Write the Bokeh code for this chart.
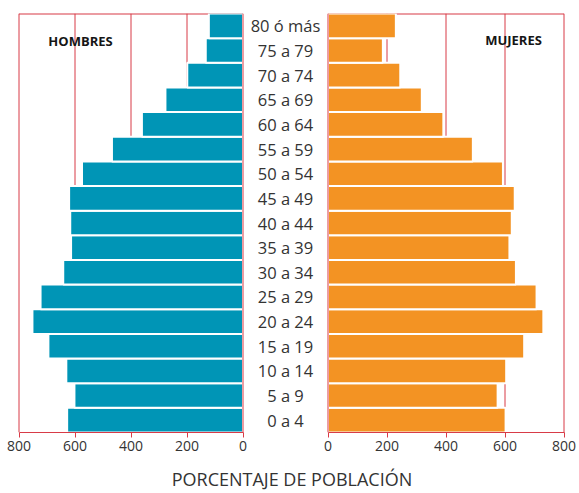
from bokeh.plotting import figure
from bokeh.models import (Range1d, FactorRange, LinearAxis, FixedTicker, Span,
                          ColumnDataSource)
from bokeh.core.properties import value
from bokeh.embed import file_html
from bokeh.resources import INLINE

# ---------------- data ----------------
ages = ["0 a 4", "5 a 9", "10 a 14", "15 a 19", "20 a 24", "25 a 29", "30 a 34",
        "35 a 39", "40 a 44", "45 a 49", "50 a 54", "55 a 59", "60 a 64",
        "65 a 69", "70 a 74", "75 a 79", "80 ó más"]
hombres = [628, 602, 631, 695, 752, 723, 642, 614, 617, 621, 575, 468, 361, 277, 199, 133, 122]
mujeres = [602, 575, 604, 665, 730, 707, 637, 615, 623, 633, 593, 491, 391, 318, 245, 186, 230]
ticks = [0, 200, 400, 600, 800]
tick_labels = ["0", "200", "400", "600", "800"]
panel_titles = ["HOMBRES", "MUJERES"]
x_title = "PORCENTAJE DE POBLACIÓN"

# ---------------- layout (pixels) ----------------
W, H = 579, 493
FRAME_L, FRAME_R = 15, 568          # plot frame (a bit wider than the panels)
FRAME_T, FRAME_B = 13, 434
MEN_MAX_PX, MEN_ZERO_PX = 18.5, 242.5
WOMEN_ZERO_PX, WOMEN_MAX_PX = 327.5, 563.5
XMAX = 800
TITLE_CX = 281
HOMBRES_PX = (80, 41)
MUJERES_PX = (513, 40)

BLUE = "#0095B6"
ORANGE = "#F39323"
RED = "#D83B47"
TEXT = "#333333"
FONT = "Open Sans"

men_scale = (MEN_ZERO_PX - MEN_MAX_PX) / XMAX
women_scale = (WOMEN_MAX_PX - WOMEN_ZERO_PX) / XMAX
men_range = Range1d(start=(MEN_ZERO_PX - FRAME_L) / men_scale,
                    end=-(FRAME_R - MEN_ZERO_PX) / men_scale)
women_range = Range1d(start=-(WOMEN_ZERO_PX - FRAME_L) / women_scale,
                      end=(FRAME_R - WOMEN_ZERO_PX) / women_scale)

def men_x(px):
    return (MEN_ZERO_PX - px) / men_scale

def women_x(px):
    return (px - WOMEN_ZERO_PX) / women_scale

def men_px(v):
    return MEN_ZERO_PX - v * men_scale

row_px = (FRAME_B - FRAME_T) / len(ages)

def cat_y(py):
    yu = len(ages) - (py - FRAME_T) / row_px
    i = min(int(yu), len(ages) - 1)
    return (ages[i], yu - (i + 0.5))

p = figure(width=W, height=H, x_range=women_range,
           y_range=FactorRange(factors=ages, range_padding=0),
           output_backend="svg", toolbar_location=None,
           x_axis_location=None, y_axis_location=None,
           min_border_left=FRAME_L, min_border_right=W - FRAME_R,
           min_border_top=FRAME_T, min_border_bottom=H - FRAME_B)
p.extra_x_ranges = {"men": men_range}
p.grid.visible = False
p.outline_line_color = None
p.background_fill_color = "white"
p.border_fill_color = "white"

# vertical grid / frame lines of both panels (behind bars)
for rng in ("men", "default"):
    for t in ticks[1:]:
        p.add_layout(Span(location=t, dimension="height", x_range_name=rng,
                          line_color=RED, line_width=1, level="underlay"))

# top frame line of each panel (behind the bars)
top_src = ColumnDataSource(dict(x0=[0], x1=[XMAX], y=[(ages[-1], 0.5)]))
for rng in ("men", "default"):
    p.segment(x0="x0", x1="x1", y0="y", y1="y", source=top_src, x_range_name=rng,
              line_color=RED, line_width=2)

# bottom frame line of each panel (axes with no ticks, zero size)
def line_axis(rng):
    return LinearAxis(x_range_name=rng, bounds=(0, XMAX), ticker=FixedTicker(ticks=[]),
                      axis_line_color=RED, axis_line_width=1,
                      major_tick_line_color=None, minor_tick_line_color=None,
                      major_tick_in=0, major_tick_out=0, minor_tick_in=0, minor_tick_out=0)

for rng in ("men", "default"):
    p.add_layout(line_axis(rng), "below")

src = ColumnDataSource(dict(edad=ages, hombres=hombres, mujeres=mujeres))

p.hbar(y="edad", left=0, right="hombres", height=1, source=src, x_range_name="men",
       fill_color=BLUE, line_color="white", line_width=2)
p.hbar(y="edad", left=0, right="mujeres", height=1, source=src,
       fill_color=ORANGE, line_color="white", line_width=2)

# zero lines on top of bars
for rng in ("men", "default"):
    p.add_layout(Span(location=0, dimension="height", x_range_name=rng,
                      line_color=RED, line_width=1))

# age labels in the middle
label_x = women_x((MEN_ZERO_PX + WOMEN_ZERO_PX) / 2)
p.text(x=label_x, y="edad", text="edad", source=src, text_align="center",
       text_baseline="middle", text_font=value(FONT), text_font_size="16.5px",
       text_color=TEXT)

# panel titles
p.text(x=[men_x(HOMBRES_PX[0])], y=[cat_y(HOMBRES_PX[1])], text=[panel_titles[0]],
       x_range_name="men", text_align="center", text_baseline="middle",
       text_font=value(FONT), text_font_size="13px", text_font_style="bold",
       text_color="#151515")
p.text(x=[women_x(MUJERES_PX[0])], y=[cat_y(MUJERES_PX[1])], text=[panel_titles[1]],
       text_align="center", text_baseline="middle",
       text_font=value(FONT), text_font_size="13px", text_font_style="bold",
       text_color="#151515")

# one tick axis carrying the ticks of both panels
women_ticks = list(ticks)
men_ticks_in_women_units = [women_x(men_px(t)) for t in ticks]
all_ticks = women_ticks + men_ticks_in_women_units
overrides = {}
for pos, lab in zip(women_ticks, tick_labels):
    overrides[float(pos)] = lab
for pos, lab in zip(men_ticks_in_women_units, tick_labels):
    overrides[float(pos)] = lab

tick_axis = LinearAxis(ticker=FixedTicker(ticks=[float(t) for t in all_ticks]),
                       axis_line_color=None,
                       major_tick_line_color=RED, major_tick_in=0, major_tick_out=5,
                       minor_tick_line_color=None,
                       major_label_text_font=FONT, major_label_text_font_size="14px",
                       major_label_text_color=TEXT, major_label_standoff=3,
                       major_label_overrides=overrides)
p.add_layout(tick_axis, "below")

# x title as an axis label centred under both panels
tb0 = women_x(FRAME_L)
tb1 = women_x(2 * TITLE_CX - FRAME_L)
title_axis = LinearAxis(bounds=(tb0, tb1), ticker=FixedTicker(ticks=[]),
                        axis_line_color=None, major_tick_line_color=None,
                        minor_tick_line_color=None, major_tick_out=0, major_tick_in=0,
                        axis_label=x_title, axis_label_standoff=13,
                        axis_label_text_font=FONT, axis_label_text_font_size="18px",
                        axis_label_text_font_style="normal",
                        axis_label_text_color=TEXT)
p.add_layout(title_axis, "below")

open("out.html", "w").write(file_html(p, INLINE))
